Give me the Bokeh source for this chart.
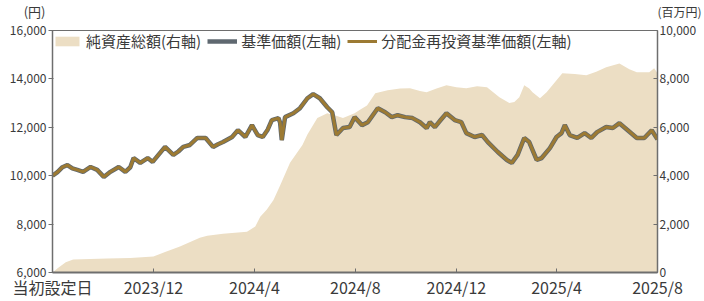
import pandas as pd
from bokeh.plotting import figure
from bokeh.layouts import column
from bokeh.models import (Range1d, LinearAxis, FixedTicker, NumeralTickFormatter,
                          Legend, LegendItem)
from bokeh.embed import file_html
from bokeh.resources import INLINE

# ---------------- data ----------------
nav_dates = [
    "2023-08-01", "2023-08-07", "2023-08-13", "2023-08-19", "2023-08-25", "2023-08-31",
    "2023-09-07", "2023-09-16", "2023-09-24", "2023-10-02", "2023-10-10", "2023-10-20",
    "2023-10-28", "2023-11-03", "2023-11-07", "2023-11-15", "2023-11-24", "2023-11-30",
    "2023-12-07", "2023-12-15", "2023-12-25", "2023-12-31", "2024-01-06", "2024-01-14",
    "2024-01-23", "2024-02-02", "2024-02-11", "2024-02-17", "2024-02-23", "2024-03-05",
    "2024-03-12", "2024-03-21", "2024-03-29", "2024-04-05", "2024-04-11", "2024-04-17",
    "2024-04-22", "2024-04-30", "2024-05-02", "2024-05-04", "2024-05-08", "2024-05-18",
    "2024-05-26", "2024-06-04", "2024-06-11", "2024-06-19", "2024-06-28", "2024-07-04",
    "2024-07-09", "2024-07-17", "2024-07-25", "2024-07-31", "2024-08-09", "2024-08-16",
    "2024-08-22", "2024-08-28", "2024-09-06", "2024-09-14", "2024-09-21", "2024-09-30",
    "2024-10-09", "2024-10-18", "2024-10-26", "2024-10-30", "2024-11-05", "2024-11-12",
    "2024-11-19", "2024-11-29", "2024-12-07", "2024-12-13", "2024-12-23", "2025-01-01",
    "2025-01-08", "2025-01-20", "2025-01-31", "2025-02-06", "2025-02-13", "2025-02-21",
    "2025-02-27", "2025-03-08", "2025-03-14", "2025-03-24", "2025-04-01", "2025-04-07",
    "2025-04-11", "2025-04-17", "2025-04-26", "2025-05-05", "2025-05-13", "2025-05-20",
    "2025-05-31", "2025-06-08", "2025-06-16", "2025-06-26", "2025-07-07", "2025-07-16",
    "2025-07-25", "2025-08-01",
]
nav_values = [
    10000, 10150, 10350, 10440, 10300, 10240,
    10160, 10360, 10240, 9950, 10160, 10360,
    10160, 10350, 10730, 10530, 10730, 10570,
    10860, 11190, 10860, 11000, 11190, 11270,
    11560, 11560, 11190, 11300, 11390, 11600,
    11880, 11600, 12090, 11680, 11600, 11900,
    12300, 12380, 12200, 11470, 12420, 12580,
    12790, 13200, 13370, 13200, 12830, 12620,
    11680, 11970, 12010, 12420, 12090, 12210,
    12500, 12790, 12620, 12420, 12500, 12420,
    12380, 12210, 11970, 12210, 12010, 12300,
    12580, 12300, 12210, 11760, 11600, 11680,
    11390, 10980, 10650, 10530, 10860, 11560,
    11390, 10650, 10730, 11140, 11600, 11760,
    12090, 11680, 11560, 11760, 11560, 11800,
    12010, 11970, 12170, 11880, 11560, 11560,
    11880, 11500,
]
# distribution-reinvested NAV (no distributions paid -> identical to NAV)
reinvested_values = list(nav_values)

aum_dates = [
    "2023-08-01", "2023-08-08", "2023-08-17", "2023-08-26", "2023-10-06", "2023-11-03",
    "2023-12-01", "2023-12-15", "2024-01-02", "2024-01-26", "2024-02-04", "2024-02-23",
    "2024-03-23", "2024-04-02", "2024-04-08", "2024-04-16", "2024-04-24", "2024-05-02",
    "2024-05-14", "2024-05-29", "2024-06-04", "2024-06-16", "2024-06-28", "2024-07-07",
    "2024-07-17", "2024-07-31", "2024-08-06", "2024-08-15", "2024-08-25", "2024-09-09",
    "2024-09-24", "2024-10-06", "2024-10-18", "2024-10-26", "2024-11-07", "2024-11-19",
    "2024-12-01", "2024-12-13", "2024-12-26", "2025-01-07", "2025-01-22", "2025-02-03",
    "2025-02-09", "2025-02-15", "2025-02-21", "2025-02-27", "2025-03-03", "2025-03-12",
    "2025-03-20", "2025-03-27", "2025-04-08", "2025-04-23", "2025-05-07", "2025-05-19",
    "2025-05-31", "2025-06-16", "2025-06-28", "2025-07-07", "2025-07-22", "2025-07-28",
    "2025-08-01",
]
aum_values = [
    0, 200, 420, 535, 580, 600,
    660, 850, 1070, 1440, 1520, 1600,
    1680, 1900, 2300, 2600, 3000, 3600,
    4530, 5270, 5700, 6380, 6580, 6500,
    6380, 6580, 6710, 6900, 7410, 7530,
    7600, 7610, 7500, 7450, 7600, 7740,
    7650, 7610, 7700, 7650, 7240, 7000,
    7050, 7240, 7740, 7600, 7450, 7200,
    7450, 7740, 8230, 8200, 8150, 8300,
    8480, 8640, 8400, 8270, 8270, 8440,
    8230,
]

tick_dates = ["2023-08-01", "2023-12-01", "2024-04-01", "2024-08-01",
              "2024-12-01", "2025-04-01", "2025-08-01"]
tick_labels = ["当初設定日", "2023/12", "2024/4", "2024/8", "2024/12", "2025/4", "2025/8"]
left_ticks = [6000, 8000, 10000, 12000, 14000, 16000]
right_ticks = [0, 2000, 4000, 6000, 8000, 10000]
unit_labels = ["(円)", "(百万円)"]
legend_labels = ["純資産総額(右軸)", "基準価額(左軸)", "分配金再投資基準価額(左軸)"]


def to_ms(dates):
    idx = pd.to_datetime(dates)
    return [int(v) for v in (idx - pd.Timestamp("1970-01-01")) // pd.Timedelta(milliseconds=1)]


nav_x = to_ms(nav_dates)
aum_x = to_ms(aum_dates)
tick_x = to_ms(tick_dates)

FONT = "Noto Sans CJK JP"
TXT = "#3a3a3a"
AXC = "#6e6e6e"
W = 704
HEAD_H = 22

# ---------------- header strip carrying the axis units ----------------
head = figure(width=W, height=HEAD_H, output_backend="svg", toolbar_location=None,
              x_range=Range1d(0, 1), y_range=Range1d(0, 1),
              x_axis_location=None, y_axis_location=None, min_border=0)
head.outline_line_color = None
head.xgrid.visible = False
head.ygrid.visible = False


def unit_axis(label, standoff, size):
    ax = LinearAxis(ticker=FixedTicker(ticks=[]), axis_label=label)
    ax.axis_line_color = None
    ax.major_tick_line_color = None
    ax.minor_tick_line_color = None
    ax.axis_label_orientation = "horizontal"
    ax.axis_label_standoff = standoff
    ax.axis_label_text_font = FONT
    ax.axis_label_text_font_style = "normal"
    ax.axis_label_text_font_size = size
    ax.axis_label_text_color = TXT
    return ax


head.add_layout(unit_axis(unit_labels[0], 7, "13px"), "left")
head.add_layout(unit_axis(unit_labels[1], 0, "12px"), "right")

# ---------------- main chart ----------------
p = figure(width=W, height=301 - HEAD_H, output_backend="svg", toolbar_location=None,
           x_range=Range1d(tick_x[0], tick_x[-1]), y_range=Range1d(6000, 16000),
           min_border_left=52, min_border_right=46, min_border_top=8, min_border_bottom=28)
p.extra_y_ranges = {"right": Range1d(0, 10000)}
p.background_fill_color = "white"
p.border_fill_color = "white"
p.outline_line_color = AXC
p.outline_line_width = 1
p.xgrid.visible = False
p.ygrid.visible = False

area = p.varea(x=aum_x, y1=[0] * len(aum_values), y2=aum_values, y_range_name="right",
               fill_color="#ecdec4", fill_alpha=1)
nav_line = p.line(nav_x, nav_values, line_color="#5f6870", line_width=4.5)
re_line = p.line(nav_x, reinvested_values, line_color="#9c7a33", line_width=3)

# x axis
xa = p.xaxis[0]
xa.ticker = FixedTicker(ticks=tick_x)
xa.major_label_overrides = {t: l for t, l in zip(tick_x, tick_labels)}
xa.major_tick_in = 4
xa.major_tick_out = 0
xa.minor_tick_line_color = None
xa.axis_line_color = AXC
xa.axis_line_width = 2
xa.major_tick_line_color = AXC
xa.major_label_text_font = FONT
xa.major_label_text_font_size = "16px"
xa.major_label_text_color = TXT
xa.major_label_standoff = 2

# left axis
ya = p.yaxis[0]
ya.ticker = FixedTicker(ticks=left_ticks)
ya.formatter = NumeralTickFormatter(format="0,0")
ya.major_tick_in = 1
ya.major_tick_out = 4
ya.minor_tick_line_color = None
ya.axis_line_color = AXC
ya.axis_line_width = 1.5
ya.major_tick_line_color = AXC
ya.major_label_text_font = FONT
ya.major_label_text_font_size = "12px"
ya.major_label_text_color = TXT
ya.major_label_standoff = 2

# right axis
ra = LinearAxis(y_range_name="right", ticker=FixedTicker(ticks=right_ticks),
                formatter=NumeralTickFormatter(format="0,0"))
ra.major_tick_in = 4
ra.major_tick_out = 0
ra.minor_tick_line_color = None
ra.axis_line_color = AXC
ra.axis_line_width = 1.5
ra.major_tick_line_color = AXC
ra.major_label_text_font = FONT
ra.major_label_text_font_size = "12px"
ra.major_label_text_color = TXT
ra.major_label_standoff = 2
p.add_layout(ra, "right")

legend = Legend(items=[
    LegendItem(label=legend_labels[0], renderers=[area]),
    LegendItem(label=legend_labels[1], renderers=[nav_line]),
    LegendItem(label=legend_labels[2], renderers=[re_line]),
], orientation="horizontal", location="top_left")
legend.margin = 0
legend.padding = 5
legend.spacing = 6
legend.glyph_width = 30
legend.glyph_height = 12
legend.label_height = 14
legend.label_standoff = 4
legend.label_text_font = FONT
legend.label_text_font_size = "15px"
legend.label_text_color = TXT
legend.background_fill_alpha = 0
legend.border_line_color = None
p.add_layout(legend)

layout = column(head, p, spacing=0)
open("out.html", "w").write(file_html(layout, INLINE))
